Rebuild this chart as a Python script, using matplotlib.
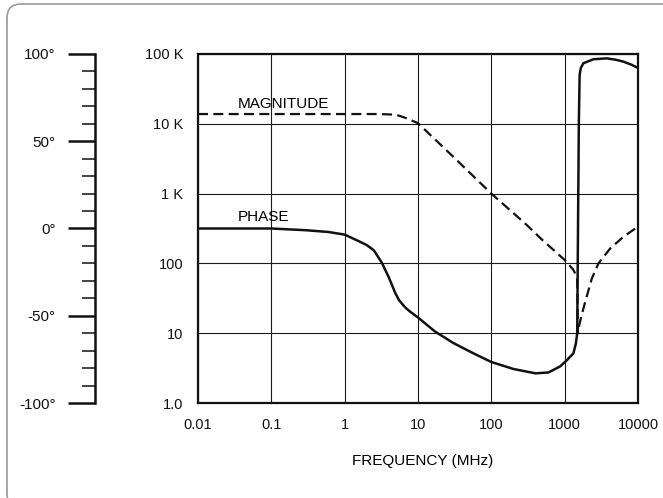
import matplotlib
matplotlib.use('Agg')
import matplotlib.pyplot as plt
from matplotlib.patches import FancyBboxPatch
from matplotlib.ticker import FixedLocator, NullLocator

plt.rcParams['font.family'] = ['Liberation Sans', 'DejaVu Sans']
plt.rcParams['font.size'] = 11

# magnitude (ohm) against frequency (MHz), dashed
mag_freq = [0.01, 0.1, 1, 3, 5, 7, 10, 30, 100, 300, 500, 1000, 1300, 1390,
            1480, 1520, 1542, 1700, 1904, 2350, 2890, 4180, 6340, 10000]
mag_vals = [13800, 13800, 13800, 13800, 13500, 12000, 10200, 3400, 1000, 360,
            215, 112, 82, 72, 62, 10, 11.7, 18, 28, 61, 100, 164, 241, 336]

# phase (degrees) against frequency (MHz), solid
phase_freq = [0.01, 0.03, 0.1, 0.3, 0.6, 1, 1.6, 2, 2.5, 3.2, 4, 4.9, 5.5,
              6.3, 7, 8, 10, 17, 30, 42, 60, 100, 200, 400, 600, 870, 1070,
              1316, 1420, 1483, 1520, 1560, 1600, 1660, 1800, 2470, 3770,
              5000, 6340, 8000, 10000]
phase_deg = [0, 0, 0, -1, -2, -3.5, -7.5, -9.5, -12.5, -19.5, -28, -37, -41,
             -44, -46, -48, -51, -59, -65.5, -68.7, -72, -76.5, -80.5, -83,
             -82.5, -79, -75.5, -71.5, -66, -60, 0, 60, 88, 92, 94.7, 97, 97.5,
             96.7, 95.6, 94, 92]

x_ticks = [0.01, 0.1, 1, 10, 100, 1000, 10000]
x_labels = ['0.01', '0.1', '1', '10', '100', '1000', '10000']
y_ticks = [1, 10, 100, 1e3, 1e4, 1e5]
y_labels = ['1.0', '10', '100', '1 K', '10 K', '100 K']
deg_major = [-100, -50, 0, 50, 100]
deg_labels = ['-100°', '-50°', '0°', '50°', '100°']
deg_minor = list(range(-90, 100, 10))

W, H = 663, 498
fig = plt.figure(figsize=(W / 100, H / 100), dpi=100)

# rounded frame round the whole figure
frame = FancyBboxPatch((0.07, -0.1), 6.7, 5.04,
                       boxstyle='round,pad=0,rounding_size=0.14',
                       transform=fig.dpi_scale_trans, fill=False,
                       edgecolor='#9a9a9a', linewidth=1.2)
fig.patches.append(frame)

# main log-log axes
ax = fig.add_axes([198 / W, (H - 403) / H, 440 / W, 349 / H])
ax.set_xscale('log')
ax.set_yscale('log')
ax.set_xlim(0.01, 10000)
ax.set_ylim(1, 1e5)
ax.xaxis.set_major_locator(FixedLocator(x_ticks))
ax.yaxis.set_major_locator(FixedLocator(y_ticks))
ax.xaxis.set_minor_locator(NullLocator())
ax.yaxis.set_minor_locator(NullLocator())
ax.set_xticklabels(x_labels)
ax.set_yticklabels(y_labels)
ax.tick_params(length=0, labelsize=10.5, colors='#111111')
ax.tick_params(axis='x', pad=11)
ax.tick_params(axis='y', pad=10.5)
ax.grid(True, color='#1a1a1a', linewidth=0.8)
for s in ax.spines.values():
    s.set_linewidth(1.6)
    s.set_color('#111111')

ax.plot(mag_freq, mag_vals, color='#111111', linewidth=1.6,
        linestyle=(0, (4.5, 2.4)), zorder=3)

ax.set_xlabel('FREQUENCY (MHz)', fontsize=11)
ax.xaxis.set_label_coords(0.511, -0.166)
ax.xaxis.label.set_verticalalignment('center')

ax.text(0.0351, 19500, 'MAGNITUDE', ha='left', va='center', fontsize=11)
ax.text(0.0351, 467, 'PHASE', ha='left', va='center', fontsize=11)

# phase curve on a hidden linear twin axis
axp = ax.twinx()
axp.set_ylim(-100, 100)
axp.axis('off')
axp.plot(phase_freq, phase_deg, color='#111111', linewidth=1.8, zorder=4)

# separate phase scale on the left
axs = fig.add_axes([95 / W, (H - 403) / H, 0.001, 349 / H])
axs.set_ylim(-100, 100)
axs.set_xticks([])
for k in ['top', 'right', 'bottom']:
    axs.spines[k].set_visible(False)
axs.spines['left'].set_linewidth(1.8)
axs.spines['left'].set_color('#111111')
axs.patch.set_visible(False)
axs.yaxis.set_major_locator(FixedLocator(deg_major))
axs.yaxis.set_minor_locator(FixedLocator([d for d in deg_minor if d % 50]))
axs.set_yticklabels(deg_labels)
axs.tick_params(axis='y', which='major', length=19.5, width=1.8, pad=9,
                labelsize=11, colors='#111111')
axs.tick_params(axis='y', which='minor', length=9.5, width=1.1,
                colors='#111111')

fig.savefig('out.png', dpi=100)
